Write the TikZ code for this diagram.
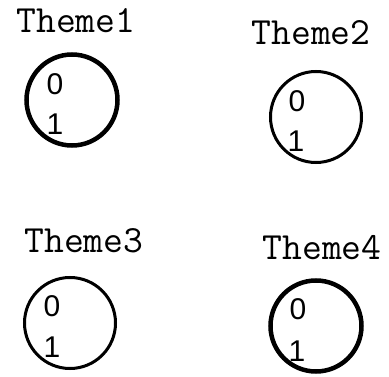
\documentclass[tikz,border=0pt]{standalone}
\usepackage{fontspec}
\setmainfont{Liberation Sans}
\usetikzlibrary{positioning}
\begin{document}
\begin{tikzpicture}[x=1pt, y=-1pt,
  title/.style={font=\ttfamily\fontsize{38.5}{38.5}\selectfont, inner sep=0pt, anchor=base},
  ring/.style={draw, circle, minimum size=91pt, inner sep=0pt, line width=3pt},
  bold ring/.style={ring, line width=4.5pt},
  digit/.style={font=\fontsize{30}{30}\selectfont, inner sep=0pt, anchor=base}]
\useasboundingbox (0,0) rectangle (389,377);
% top row
\node[title] (t1) at (76,33) {Theme1};
\node[bold ring] (c1) at (72,100) {};
\node[digit] (z1) at (55,95) {0};
\node[digit] (o1) at (55,135) {1};
\node[title] (t2) at (311,45) {Theme2};
\node[ring] (c2) at (316,117) {};
\node[digit] (z2) at (297,112) {0};
\node[digit] (o2) at (296,152) {1};
% bottom row
\node[title] (t3) at (84,253) {Theme3};
\node[ring] (c3) at (70,323) {};
\node[digit] (z3) at (52,317) {0};
\node[digit] (o3) at (52,358) {1};
\node[title] (t4) at (322,260) {Theme4};
\node[bold ring] (c4) at (316,326) {};
\node[digit] (z4) at (298,320) {0};
\node[digit] (o4) at (297,362) {1};
\end{tikzpicture}
\end{document}
